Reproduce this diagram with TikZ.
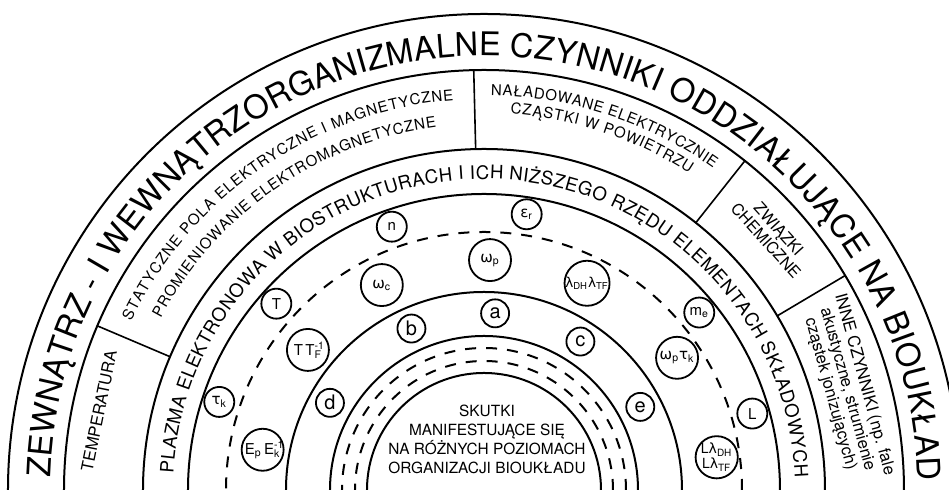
\documentclass[tikz,border=0pt]{standalone}
\usepackage{fontspec}
\setmainfont{TeX Gyre Heros}
\newfontfamily\grk{DejaVu Sans}
\usetikzlibrary{decorations.text}

\newcommand{\outerfnt}{\fontsize{16.3}{16.3}\selectfont}
\newcommand{\plazmafnt}{\fontsize{9.3}{9.3}\selectfont}
\newcommand{\bandfnt}{\fontsize{7.5}{7.5}\selectfont}
\newcommand{\gl}[1]{{\grk #1}}

\begin{document}
\begin{tikzpicture}[x=0.5pt,y=0.5pt,
  ring/.style={line width=1pt},
  dashring/.style={line width=1pt,dash pattern=on 5.5pt off 5pt},
  divider/.style={line width=0.8pt},
  bigcirc/.style={circle,draw,fill=white,line width=0.9pt,minimum size=21pt,inner sep=0pt,font=\fontsize{7.5}{7.5}\selectfont},
  smallcirc/.style={circle,draw,fill=white,line width=0.9pt,minimum size=15pt,inner sep=0pt,font=\fontsize{7.5}{7.5}\selectfont},
  lettercirc/.style={circle,draw,fill=white,line width=0.9pt,minimum size=14pt,inner sep=0pt,font=\fontsize{10}{10}\selectfont},
  arctext/.style={decorate,decoration={text along path,text align=fit to path}}]
\useasboundingbox (-484,0) rectangle (465,490);

% solid and dashed rings
\foreach \r in {476,420,341,296,198,154,117}
  \draw[ring] (\r,0) arc[start angle=0,end angle=180,radius=\r];
\foreach \r in {258,142,129}
  \draw[dashring] (\r,0) arc[start angle=0,end angle=180,radius=\r];

% dividers of the second band
\foreach \a in {157,91.4,51.6,30.7}
  \draw[divider] (\a:341) -- (\a:420);

% outer title
\path[arctext,decoration={text={|\outerfnt|ZEWNĄTRZ - I WEWNĄTRZORGANIZMALNE CZYNNIKI ODDZIAŁUJĄCE NA BIOUKŁAD}}]
  (178.3:434) arc[start angle=178.3,end angle=1.3,radius=434];

% field band
\node[rotate=78.4,font=\fontsize{8.2}{9}\selectfont] (temp) at (168.4:393) {TEMPERATURA};
\path[arctext,decoration={text={|\bandfnt|STATYCZNE POLA ELEKTRYCZNE I MAGNETYCZNE}}]
  (154.5:391) arc[start angle=154.5,end angle=94.5,radius=391];
\path[arctext,decoration={text={|\bandfnt|PROMIENIOWANIE ELEKTROMAGNETYCZNE}}]
  (152:366) arc[start angle=152,end angle=97.5,radius=366];
\path[arctext,decoration={text={|\bandfnt|NAŁADOWANE ELEKTRYCZNIE}}]
  (89:395) arc[start angle=89,end angle=54.5,radius=395];
\path[arctext,decoration={text={|\bandfnt|CZĄSTKI W POWIETRZU}}]
  (86:377) arc[start angle=86,end angle=57,radius=377];
\node[rotate=-48,align=center,font=\fontsize{8}{8.6}\selectfont] (zwiazki) at (41.5:385) {ZWIĄZKI\\CHEMICZNE};
\node[rotate=-74.5,align=center,font=\fontsize{8.3}{8.8}\selectfont] (inne) at (15.5:377) {INNE CZYNNIKI (np. fale\\akustyczne, strumienie\\cząstek jonizujących)};

% plasma band
\path[arctext,decoration={text={|\plazmafnt|PLAZMA ELEKTRONOWA W BIOSTRUKTURACH I ICH NIŻSZEGO RZĘDU ELEMENTACH SKŁADOWYCH}}]
  (176.9:311) arc[start angle=176.9,end angle=2.3,radius=311];

% parameters
\foreach \name/\ang/\lab in {n/109.3/n, er/81.2/\gl{ε}\textsubscript{r}, T/138.1/T, tk/161.6/\gl{τ}\textsubscript{k}, me/39.5/m\textsubscript{e}, L/15.9/L}
  \node[smallcirc] (\name) at (\ang:279) {\lab};
\foreach \name/\ang/\rad/\lab in {wc/116.5/229/\gl{ω}\textsubscript{c}, wp/88.5/230/\gl{ω}\textsubscript{p}, wptk/34.4/234/\gl{ω}\textsubscript{p}\gl{τ}\textsubscript{k}}
  \node[bigcirc] (\name) at (\ang:\rad) {\lab};
\node[bigcirc] (TTf) at (141.5:225) {T\,T\rlap{\textsuperscript{-1}}\textsubscript{F}};
\node[bigcirc] (EpEk) at (169.7:225) {E\textsubscript{p}\,E\rlap{\textsuperscript{-1}}\textsubscript{k}};
\node[bigcirc,font=\fontsize{6.8}{6.8}\selectfont] (lam) at (63.5:231) {\gl{λ}\textsubscript{DH}\gl{λ}\textsubscript{TF}};
\node[bigcirc,align=center,font=\fontsize{7}{7.5}\selectfont] (Llam) at (8:235) {L\gl{λ}\textsubscript{DH}\\L\gl{λ}\textsubscript{TF}};

% levels a-e
\foreach \name/\ang in {a/86.4, b/114.2, c/57, d/150.5, e/28}
  \node[lettercirc] (\name) at (\ang:177) {\name};

% centre
\node[align=center,font=\fontsize{7.7}{9.5}\selectfont] (skutki) at (3,51) {SKUTKI\\MANIFESTUJĄCE SIĘ\\NA RÓŻNYCH POZIOMACH\\ORGANIZACJI BIOUKŁADU};
\end{tikzpicture}
\end{document}
